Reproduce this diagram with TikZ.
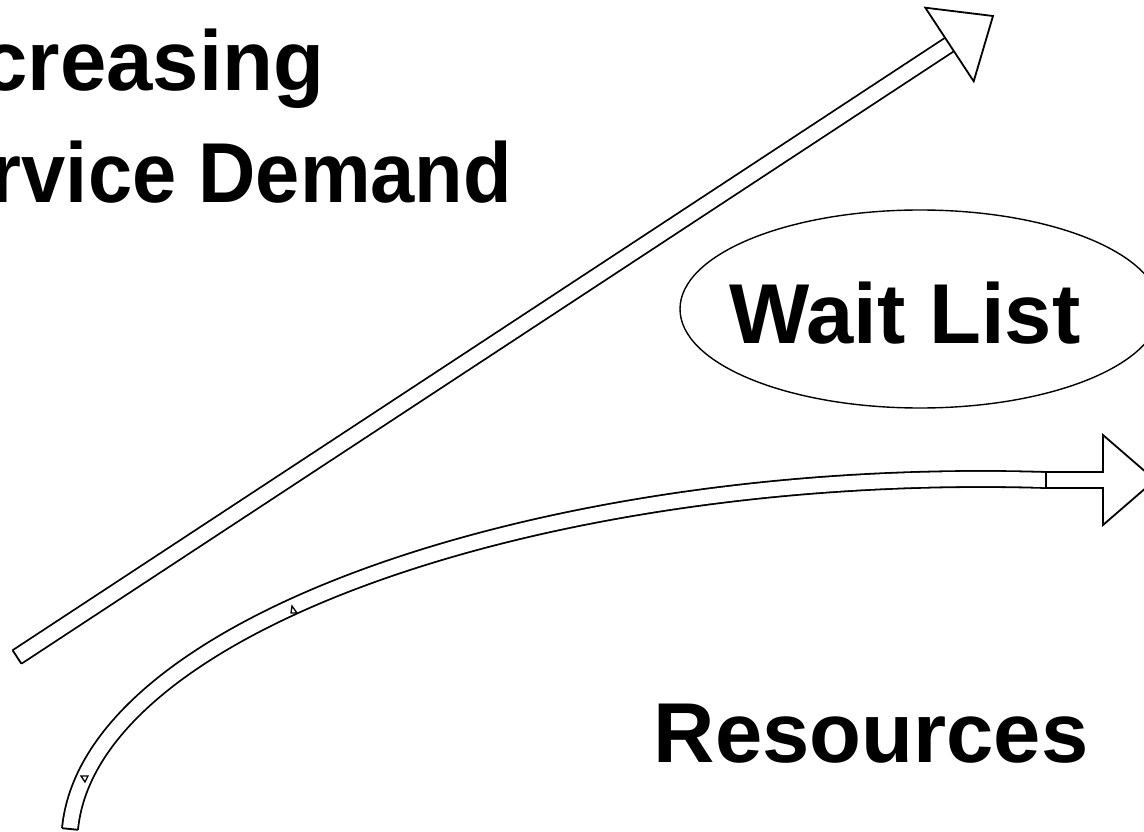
\documentclass[tikz,border=0pt]{standalone}
\usepackage{fontspec}
\setmainfont{Liberation Sans}
\usepackage{graphicx}
\usetikzlibrary{shapes.geometric}

\begin{document}
\begin{tikzpicture}[x=1pt,y=-1pt,line width=1.8pt,line join=miter]
  \tikzstyle{big text}=[font=\fontsize{85}{100}\selectfont\bfseries,inner sep=0pt]
  \tikzstyle{hollow}=[double=white,double distance=14.2pt]
  \tikzstyle{head}=[fill=white]

  \useasboundingbox (0,0) rectangle (1144,832);
  \clip (0,0) rectangle (1144,832);

  % Labels
  \node[big text, anchor=base east] (inc) at (325,91) {\scalebox{0.98}[1]{Increasing}};
  \node[big text, anchor=base east] (svc) at (513,203) {\scalebox{0.935}[1]{Service Demand}};
  \node[ellipse, draw, line width=1.4pt, minimum width=480, minimum height=198] (wait) at (920,309) {};
  \node[big text, anchor=base] (waitlbl) at (905,343) {Wait List};
  \node[big text, anchor=base west] (res) at (653,762) {Resources};

  % Demand arrow
  \coordinate (demtail) at (17,657);
  \coordinate (demjoin) at (949.5,44.5);
  \coordinate (demtip) at (993,16);
  \draw[hollow] (demtail) -- (demjoin);
  \draw (12.6,650.3) -- (21.4,663.7);
  \draw[head] (925.3,7.7) -- (demtip) -- (973.7,81.3) -- cycle;

  % Resources arrow
  \coordinate (restail) at (70,829);
  \coordinate (resjoin) at (1046,480);
  \coordinate (restip) at (1155,480);
  \draw[hollow] (restail) .. controls (90,620) and (560,465) .. (resjoin);
  \draw (62.1,828.2) -- (77.9,829.8);
  \draw[head] (resjoin) ++(0,-8) -- (1103,472) -- (1103,435) -- (restip)
    -- (1103,525) -- (1103,488) -- (1046,488) -- cycle;
  \draw[line width=1.3pt] (292,606) -- (297,613) -- (291,613) -- cycle;
  \draw[line width=1.3pt] (81,776) -- (88,776) -- (85,782) -- cycle;

\end{tikzpicture}
\end{document}
